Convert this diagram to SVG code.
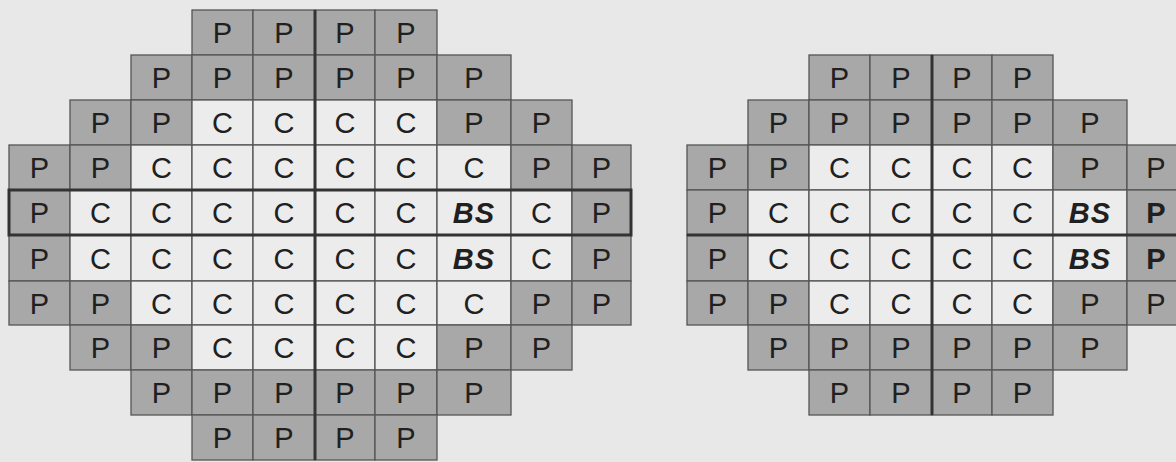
<svg xmlns="http://www.w3.org/2000/svg" width="1176" height="462" viewBox="0 0 1176 462">
<style>
.bg{fill:#e8e8e8}
rect.p{fill:#a8a8a8;stroke:#555;stroke-width:1.3}
rect.c{fill:#ececec;stroke:#555;stroke-width:1.3}
text{font-family:"Liberation Sans",Arial,sans-serif;font-size:29px;fill:#202020;text-anchor:middle}
text.bs{font-weight:bold;font-style:italic;font-size:29px;letter-spacing:1px}
text.b{font-weight:bold}
.thick{stroke:#333;stroke-width:3;fill:none}
</style>
<rect class="bg" x="0" y="0" width="1176" height="462"/>
<g id="left-core">
<g id="L0-3"><rect class="p" x="192" y="10" width="61" height="45"/><text x="222.5" y="43">P</text></g>
<g id="L0-4"><rect class="p" x="253" y="10" width="62" height="45"/><text x="284" y="43">P</text></g>
<g id="L0-5"><rect class="p" x="315" y="10" width="60" height="45"/><text x="345" y="43">P</text></g>
<g id="L0-6"><rect class="p" x="375" y="10" width="62" height="45"/><text x="406" y="43">P</text></g>

<g id="L1-2"><rect class="p" x="131" y="55" width="61" height="45"/><text x="161.5" y="88">P</text></g>
<g id="L1-3"><rect class="p" x="192" y="55" width="61" height="45"/><text x="222.5" y="88">P</text></g>
<g id="L1-4"><rect class="p" x="253" y="55" width="62" height="45"/><text x="284" y="88">P</text></g>
<g id="L1-5"><rect class="p" x="315" y="55" width="60" height="45"/><text x="345" y="88">P</text></g>
<g id="L1-6"><rect class="p" x="375" y="55" width="62" height="45"/><text x="406" y="88">P</text></g>
<g id="L1-7"><rect class="p" x="437" y="55" width="74" height="45"/><text x="474" y="88">P</text></g>

<g id="L2-1"><rect class="p" x="70" y="100" width="61" height="45"/><text x="100.5" y="133">P</text></g>
<g id="L2-2"><rect class="p" x="131" y="100" width="61" height="45"/><text x="161.5" y="133">P</text></g>
<g id="L2-3"><rect class="c" x="192" y="100" width="61" height="45"/><text x="222.5" y="133">C</text></g>
<g id="L2-4"><rect class="c" x="253" y="100" width="62" height="45"/><text x="284" y="133">C</text></g>
<g id="L2-5"><rect class="c" x="315" y="100" width="60" height="45"/><text x="345" y="133">C</text></g>
<g id="L2-6"><rect class="c" x="375" y="100" width="62" height="45"/><text x="406" y="133">C</text></g>
<g id="L2-7"><rect class="p" x="437" y="100" width="74" height="45"/><text x="474" y="133">P</text></g>
<g id="L2-8"><rect class="p" x="511" y="100" width="61" height="45"/><text x="541.5" y="133">P</text></g>

<g id="L3-0"><rect class="p" x="9" y="145" width="61" height="45"/><text x="39.5" y="178">P</text></g>
<g id="L3-1"><rect class="p" x="70" y="145" width="61" height="45"/><text x="100.5" y="178">P</text></g>
<g id="L3-2"><rect class="c" x="131" y="145" width="61" height="45"/><text x="161.5" y="178">C</text></g>
<g id="L3-3"><rect class="c" x="192" y="145" width="61" height="45"/><text x="222.5" y="178">C</text></g>
<g id="L3-4"><rect class="c" x="253" y="145" width="62" height="45"/><text x="284" y="178">C</text></g>
<g id="L3-5"><rect class="c" x="315" y="145" width="60" height="45"/><text x="345" y="178">C</text></g>
<g id="L3-6"><rect class="c" x="375" y="145" width="62" height="45"/><text x="406" y="178">C</text></g>
<g id="L3-7"><rect class="c" x="437" y="145" width="74" height="45"/><text x="474" y="178">C</text></g>
<g id="L3-8"><rect class="p" x="511" y="145" width="61" height="45"/><text x="541.5" y="178">P</text></g>
<g id="L3-9"><rect class="p" x="572" y="145" width="59" height="45"/><text x="601.5" y="178">P</text></g>

<g id="L4-0"><rect class="p" x="9" y="190" width="61" height="45"/><text x="39.5" y="223">P</text></g>
<g id="L4-1"><rect class="c" x="70" y="190" width="61" height="45"/><text x="100.5" y="223">C</text></g>
<g id="L4-2"><rect class="c" x="131" y="190" width="61" height="45"/><text x="161.5" y="223">C</text></g>
<g id="L4-3"><rect class="c" x="192" y="190" width="61" height="45"/><text x="222.5" y="223">C</text></g>
<g id="L4-4"><rect class="c" x="253" y="190" width="62" height="45"/><text x="284" y="223">C</text></g>
<g id="L4-5"><rect class="c" x="315" y="190" width="60" height="45"/><text x="345" y="223">C</text></g>
<g id="L4-6"><rect class="c" x="375" y="190" width="62" height="45"/><text x="406" y="223">C</text></g>
<g id="L4-7"><rect class="c" x="437" y="190" width="74" height="45"/><text class="bs" x="474" y="223">BS</text></g>
<g id="L4-8"><rect class="c" x="511" y="190" width="61" height="45"/><text x="541.5" y="223">C</text></g>
<g id="L4-9"><rect class="p" x="572" y="190" width="59" height="45"/><text x="601.5" y="223">P</text></g>

<g id="L5-0"><rect class="p" x="9" y="235" width="61" height="46"/><text x="39.5" y="268.5">P</text></g>
<g id="L5-1"><rect class="c" x="70" y="235" width="61" height="46"/><text x="100.5" y="268.5">C</text></g>
<g id="L5-2"><rect class="c" x="131" y="235" width="61" height="46"/><text x="161.5" y="268.5">C</text></g>
<g id="L5-3"><rect class="c" x="192" y="235" width="61" height="46"/><text x="222.5" y="268.5">C</text></g>
<g id="L5-4"><rect class="c" x="253" y="235" width="62" height="46"/><text x="284" y="268.5">C</text></g>
<g id="L5-5"><rect class="c" x="315" y="235" width="60" height="46"/><text x="345" y="268.5">C</text></g>
<g id="L5-6"><rect class="c" x="375" y="235" width="62" height="46"/><text x="406" y="268.5">C</text></g>
<g id="L5-7"><rect class="c" x="437" y="235" width="74" height="46"/><text class="bs" x="474" y="268.5">BS</text></g>
<g id="L5-8"><rect class="c" x="511" y="235" width="61" height="46"/><text x="541.5" y="268.5">C</text></g>
<g id="L5-9"><rect class="p" x="572" y="235" width="59" height="46"/><text x="601.5" y="268.5">P</text></g>

<g id="L6-0"><rect class="p" x="9" y="281" width="61" height="44"/><text x="39.5" y="313.5">P</text></g>
<g id="L6-1"><rect class="p" x="70" y="281" width="61" height="44"/><text x="100.5" y="313.5">P</text></g>
<g id="L6-2"><rect class="c" x="131" y="281" width="61" height="44"/><text x="161.5" y="313.5">C</text></g>
<g id="L6-3"><rect class="c" x="192" y="281" width="61" height="44"/><text x="222.5" y="313.5">C</text></g>
<g id="L6-4"><rect class="c" x="253" y="281" width="62" height="44"/><text x="284" y="313.5">C</text></g>
<g id="L6-5"><rect class="c" x="315" y="281" width="60" height="44"/><text x="345" y="313.5">C</text></g>
<g id="L6-6"><rect class="c" x="375" y="281" width="62" height="44"/><text x="406" y="313.5">C</text></g>
<g id="L6-7"><rect class="c" x="437" y="281" width="74" height="44"/><text x="474" y="313.5">C</text></g>
<g id="L6-8"><rect class="p" x="511" y="281" width="61" height="44"/><text x="541.5" y="313.5">P</text></g>
<g id="L6-9"><rect class="p" x="572" y="281" width="59" height="44"/><text x="601.5" y="313.5">P</text></g>

<g id="L7-1"><rect class="p" x="70" y="325" width="61" height="45"/><text x="100.5" y="358">P</text></g>
<g id="L7-2"><rect class="p" x="131" y="325" width="61" height="45"/><text x="161.5" y="358">P</text></g>
<g id="L7-3"><rect class="c" x="192" y="325" width="61" height="45"/><text x="222.5" y="358">C</text></g>
<g id="L7-4"><rect class="c" x="253" y="325" width="62" height="45"/><text x="284" y="358">C</text></g>
<g id="L7-5"><rect class="c" x="315" y="325" width="60" height="45"/><text x="345" y="358">C</text></g>
<g id="L7-6"><rect class="c" x="375" y="325" width="62" height="45"/><text x="406" y="358">C</text></g>
<g id="L7-7"><rect class="p" x="437" y="325" width="74" height="45"/><text x="474" y="358">P</text></g>
<g id="L7-8"><rect class="p" x="511" y="325" width="61" height="45"/><text x="541.5" y="358">P</text></g>

<g id="L8-2"><rect class="p" x="131" y="370" width="61" height="45"/><text x="161.5" y="403">P</text></g>
<g id="L8-3"><rect class="p" x="192" y="370" width="61" height="45"/><text x="222.5" y="403">P</text></g>
<g id="L8-4"><rect class="p" x="253" y="370" width="62" height="45"/><text x="284" y="403">P</text></g>
<g id="L8-5"><rect class="p" x="315" y="370" width="60" height="45"/><text x="345" y="403">P</text></g>
<g id="L8-6"><rect class="p" x="375" y="370" width="62" height="45"/><text x="406" y="403">P</text></g>
<g id="L8-7"><rect class="p" x="437" y="370" width="74" height="45"/><text x="474" y="403">P</text></g>

<g id="L9-3"><rect class="p" x="192" y="415" width="61" height="45"/><text x="222.5" y="448">P</text></g>
<g id="L9-4"><rect class="p" x="253" y="415" width="62" height="45"/><text x="284" y="448">P</text></g>
<g id="L9-5"><rect class="p" x="315" y="415" width="60" height="45"/><text x="345" y="448">P</text></g>
<g id="L9-6"><rect class="p" x="375" y="415" width="62" height="45"/><text x="406" y="448">P</text></g>
</g>

<g id="right-core">
<g id="R0-2"><rect class="p" x="809" y="55" width="61" height="45"/><text x="839.5" y="88">P</text></g>
<g id="R0-3"><rect class="p" x="870" y="55" width="62" height="45"/><text x="901" y="88">P</text></g>
<g id="R0-4"><rect class="p" x="932" y="55" width="60" height="45"/><text x="962" y="88">P</text></g>
<g id="R0-5"><rect class="p" x="992" y="55" width="61" height="45"/><text x="1022.5" y="88">P</text></g>

<g id="R1-1"><rect class="p" x="748" y="100" width="61" height="45"/><text x="778.5" y="133">P</text></g>
<g id="R1-2"><rect class="p" x="809" y="100" width="61" height="45"/><text x="839.5" y="133">P</text></g>
<g id="R1-3"><rect class="p" x="870" y="100" width="62" height="45"/><text x="901" y="133">P</text></g>
<g id="R1-4"><rect class="p" x="932" y="100" width="60" height="45"/><text x="962" y="133">P</text></g>
<g id="R1-5"><rect class="p" x="992" y="100" width="61" height="45"/><text x="1022.5" y="133">P</text></g>
<g id="R1-6"><rect class="p" x="1053" y="100" width="74" height="45"/><text x="1090" y="133">P</text></g>

<g id="R2-0"><rect class="p" x="687" y="145" width="61" height="45"/><text x="717.5" y="178">P</text></g>
<g id="R2-1"><rect class="p" x="748" y="145" width="61" height="45"/><text x="778.5" y="178">P</text></g>
<g id="R2-2"><rect class="c" x="809" y="145" width="61" height="45"/><text x="839.5" y="178">C</text></g>
<g id="R2-3"><rect class="c" x="870" y="145" width="62" height="45"/><text x="901" y="178">C</text></g>
<g id="R2-4"><rect class="c" x="932" y="145" width="60" height="45"/><text x="962" y="178">C</text></g>
<g id="R2-5"><rect class="c" x="992" y="145" width="61" height="45"/><text x="1022.5" y="178">C</text></g>
<g id="R2-6"><rect class="p" x="1053" y="145" width="74" height="45"/><text x="1090" y="178">P</text></g>
<g id="R2-7"><rect class="p" x="1127" y="145" width="61" height="45"/><text x="1156" y="178">P</text></g>

<g id="R3-0"><rect class="p" x="687" y="190" width="61" height="45"/><text x="717.5" y="223">P</text></g>
<g id="R3-1"><rect class="c" x="748" y="190" width="61" height="45"/><text x="778.5" y="223">C</text></g>
<g id="R3-2"><rect class="c" x="809" y="190" width="61" height="45"/><text x="839.5" y="223">C</text></g>
<g id="R3-3"><rect class="c" x="870" y="190" width="62" height="45"/><text x="901" y="223">C</text></g>
<g id="R3-4"><rect class="c" x="932" y="190" width="60" height="45"/><text x="962" y="223">C</text></g>
<g id="R3-5"><rect class="c" x="992" y="190" width="61" height="45"/><text x="1022.5" y="223">C</text></g>
<g id="R3-6"><rect class="c" x="1053" y="190" width="74" height="45"/><text class="bs" x="1090" y="223">BS</text></g>
<g id="R3-7"><rect class="p" x="1127" y="190" width="61" height="45"/><text class="b" x="1156" y="223">P</text></g>

<g id="R4-0"><rect class="p" x="687" y="235" width="61" height="46"/><text x="717.5" y="268.5">P</text></g>
<g id="R4-1"><rect class="c" x="748" y="235" width="61" height="46"/><text x="778.5" y="268.5">C</text></g>
<g id="R4-2"><rect class="c" x="809" y="235" width="61" height="46"/><text x="839.5" y="268.5">C</text></g>
<g id="R4-3"><rect class="c" x="870" y="235" width="62" height="46"/><text x="901" y="268.5">C</text></g>
<g id="R4-4"><rect class="c" x="932" y="235" width="60" height="46"/><text x="962" y="268.5">C</text></g>
<g id="R4-5"><rect class="c" x="992" y="235" width="61" height="46"/><text x="1022.5" y="268.5">C</text></g>
<g id="R4-6"><rect class="c" x="1053" y="235" width="74" height="46"/><text class="bs" x="1090" y="268.5">BS</text></g>
<g id="R4-7"><rect class="p" x="1127" y="235" width="61" height="46"/><text class="b" x="1156" y="268.5">P</text></g>

<g id="R5-0"><rect class="p" x="687" y="281" width="61" height="44"/><text x="717.5" y="313.5">P</text></g>
<g id="R5-1"><rect class="p" x="748" y="281" width="61" height="44"/><text x="778.5" y="313.5">P</text></g>
<g id="R5-2"><rect class="c" x="809" y="281" width="61" height="44"/><text x="839.5" y="313.5">C</text></g>
<g id="R5-3"><rect class="c" x="870" y="281" width="62" height="44"/><text x="901" y="313.5">C</text></g>
<g id="R5-4"><rect class="c" x="932" y="281" width="60" height="44"/><text x="962" y="313.5">C</text></g>
<g id="R5-5"><rect class="c" x="992" y="281" width="61" height="44"/><text x="1022.5" y="313.5">C</text></g>
<g id="R5-6"><rect class="p" x="1053" y="281" width="74" height="44"/><text x="1090" y="313.5">P</text></g>
<g id="R5-7"><rect class="p" x="1127" y="281" width="61" height="44"/><text x="1156" y="313.5">P</text></g>

<g id="R6-1"><rect class="p" x="748" y="325" width="61" height="45"/><text x="778.5" y="358">P</text></g>
<g id="R6-2"><rect class="p" x="809" y="325" width="61" height="45"/><text x="839.5" y="358">P</text></g>
<g id="R6-3"><rect class="p" x="870" y="325" width="62" height="45"/><text x="901" y="358">P</text></g>
<g id="R6-4"><rect class="p" x="932" y="325" width="60" height="45"/><text x="962" y="358">P</text></g>
<g id="R6-5"><rect class="p" x="992" y="325" width="61" height="45"/><text x="1022.5" y="358">P</text></g>
<g id="R6-6"><rect class="p" x="1053" y="325" width="74" height="45"/><text x="1090" y="358">P</text></g>

<g id="R7-2"><rect class="p" x="809" y="370" width="61" height="45"/><text x="839.5" y="403">P</text></g>
<g id="R7-3"><rect class="p" x="870" y="370" width="62" height="45"/><text x="901" y="403">P</text></g>
<g id="R7-4"><rect class="p" x="932" y="370" width="60" height="45"/><text x="962" y="403">P</text></g>
<g id="R7-5"><rect class="p" x="992" y="370" width="61" height="45"/><text x="1022.5" y="403">P</text></g>
</g>

<g id="axes">
<line class="thick" x1="315" y1="10" x2="315" y2="460"/>
<rect class="thick" x="9" y="190" width="622" height="45"/>
<line class="thick" x1="932" y1="55" x2="932" y2="415"/>
<line class="thick" x1="687" y1="235" x2="1188" y2="235"/>
</g>
</svg>
